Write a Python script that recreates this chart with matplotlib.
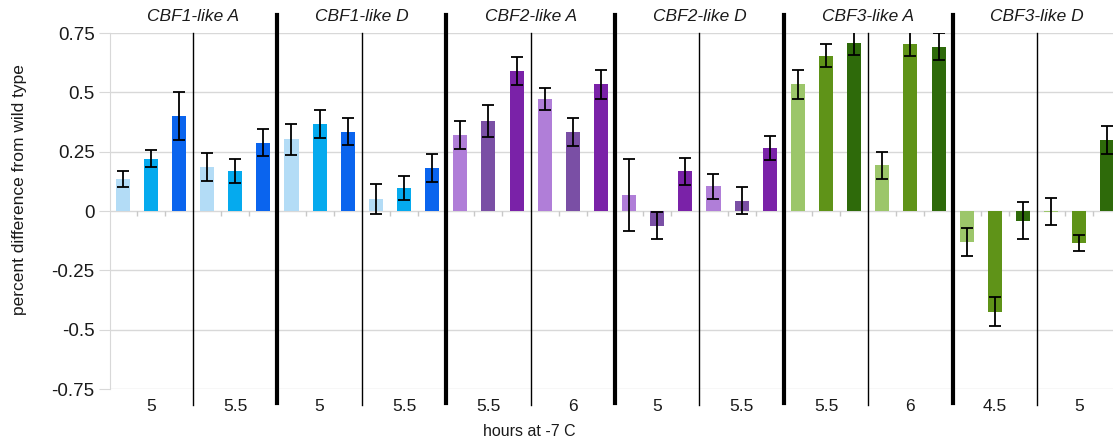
import numpy as np
from matplotlib import pyplot as plt

plt.rcParams["font.family"] = ["Liberation Sans", "DejaVu Sans"]

# genes and hour labels (two time points per gene, three bars each)
genes = ["CBF1-like A", "CBF1-like D", "CBF2-like A", "CBF2-like D", "CBF3-like A", "CBF3-like D"]
hours = ["5", "5.5", "5", "5.5", "5.5", "6", "5", "5.5", "5.5", "6", "4.5", "5"]

values = [0.134, 0.221, 0.40, 0.186, 0.168, 0.288,
          0.302, 0.367, 0.334, 0.050, 0.097, 0.183,
          0.320, 0.380, 0.588, 0.471, 0.333, 0.534,
          0.068, -0.062, 0.167, 0.104, 0.044, 0.264,
          0.534, 0.655, 0.708, 0.192, 0.704, 0.693,
          -0.131, -0.424, -0.042, -0.003, -0.135, 0.299]
errors = [0.033, 0.034, 0.10, 0.058, 0.049, 0.058,
          0.065, 0.058, 0.057, 0.064, 0.051, 0.059,
          0.059, 0.067, 0.059, 0.047, 0.058, 0.060,
          0.152, 0.056, 0.056, 0.053, 0.056, 0.051,
          0.060, 0.050, 0.050, 0.058, 0.050, 0.058,
          0.059, 0.062, 0.078, 0.058, 0.034, 0.058]

palette = {
    "CBF1": ["#b3dcf6", "#05aaee", "#0a64ee"],
    "CBF2": ["#b07ed8", "#7a4fa5", "#7a22a8"],
    "CBF3": ["#9cc66a", "#5f9318", "#2e6a0a"],
}
colors = []
for g in genes:
    colors += palette[g[:4]] * 2

fig = plt.figure(figsize=(11.13, 4.42), dpi=100)
ax = fig.add_axes([110 / 1113, 53 / 442, 1 - 110 / 1113, 356 / 442])

x = np.arange(len(values))
ax.bar(x, values, width=0.5, color=colors, zorder=3)
ax.errorbar(x, values, yerr=errors, fmt="none", ecolor="black", elinewidth=1.3,
            capsize=4.5, capthick=1.3, zorder=4)

ax.set_xlim(-0.45, 35.2)
ax.set_ylim(-0.75, 0.75)
ax.set_yticks([0.75, 0.5, 0.25, 0, -0.25, -0.5, -0.75])
ax.set_yticklabels(["0.75", "0.5", "0.25", "0", "-0.25", "-0.5", "-0.75"])
ax.yaxis.grid(True, color="#d8d8d8", linewidth=1.0, zorder=0)
ax.tick_params(axis="y", length=8, color="#d8d8d8", labelsize=13.5, labelcolor="#1a1a1a", pad=3)
ax.set_xticks([])
for s in ["top", "right", "bottom"]:
    ax.spines[s].set_visible(False)
ax.spines["left"].set_color("#d8d8d8")

# small ticks on the zero line between bars
bounds = np.arange(0.5, len(values) - 1, 1)
bounds = bounds[(bounds + 0.5) % 3 != 0]
ax.vlines(bounds, -0.02, 0, color="#c8c8c8", linewidth=1, zorder=2)

trans = ax.get_xaxis_transform()
for i in range(1, len(hours) + 1):
    xb = i * 3 - 0.5
    if i % 2 == 0:
        ax.plot([xb, xb], [-0.04, 1.05], color="black", lw=3, transform=trans, clip_on=False, zorder=5)
    else:
        ax.plot([xb, xb], [-0.046, 1.0], color="black", lw=1, transform=trans, clip_on=False, zorder=5)

for i, h in enumerate(hours):
    ax.text(i * 3 + 1, -0.05, h, transform=trans, ha="center", va="center",
            fontsize=12.5, color="#1a1a1a")
for i, g in enumerate(genes):
    ax.text(i * 6 + 2.5, 1.045, g, transform=trans, ha="center", va="center",
            fontsize=12.5, style="italic", color="#1a1a1a")

fig.text(20 / 1113, 1 - 190 / 442, "percent difference from wild type", rotation=90,
         ha="center", va="center", fontsize=12.5, color="#1a1a1a")
fig.text(529 / 1113, 1 - 431 / 442, "hours at -7 C", ha="center", va="center",
         fontsize=11.5, color="#1a1a1a")

fig.savefig("out.png", dpi=100)
